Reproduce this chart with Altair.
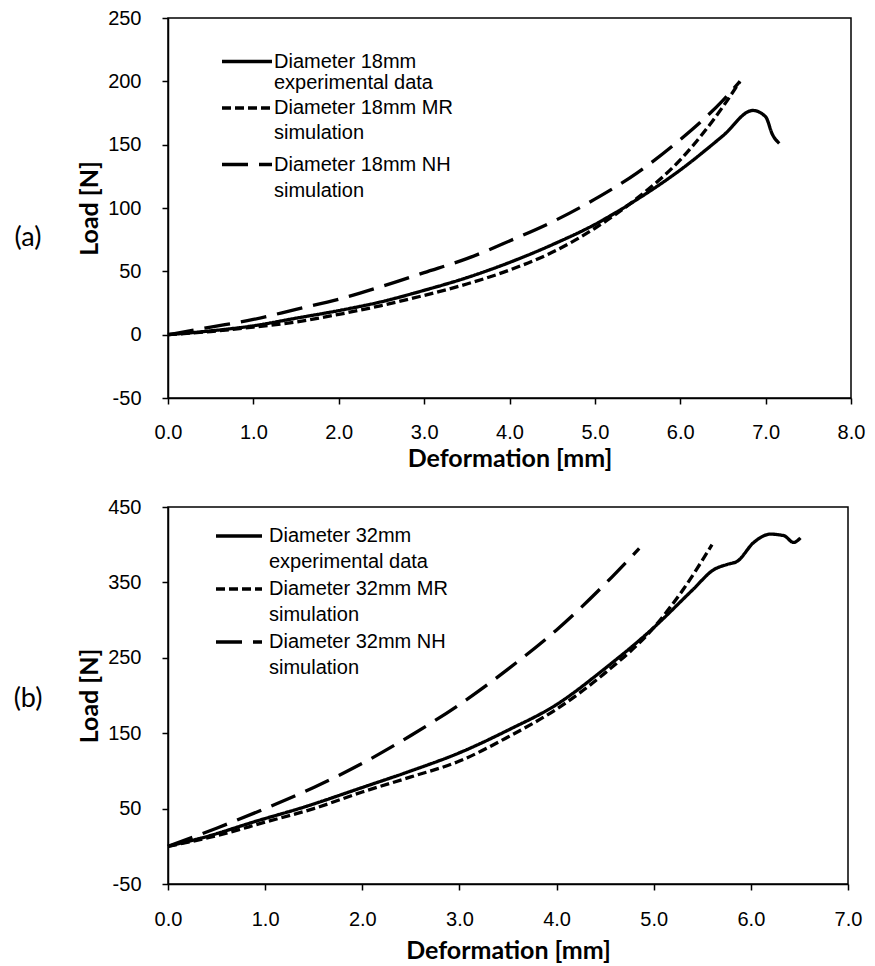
import altair as alt
import pandas as pd

# ---------------- Panel (a): diameter 18 mm ----------------
a_names = ["Diameter 18mm experimental data", "Diameter 18mm MR simulation", "Diameter 18mm NH simulation"]
a_exp_x = [0, 0.5, 1.0, 1.5, 2.0, 2.5, 3.0, 3.5, 4.0, 4.5, 5.0, 5.5, 6.0, 6.5, 6.85, 7.0, 7.08, 7.16]
a_exp_y = [0, 3, 7, 13, 19, 26, 35, 45, 57, 71, 87, 107, 130, 157, 177, 172, 158, 151]
a_mr_x = [0, 0.5, 1.0, 1.5, 2.0, 2.5, 3.0, 3.5, 4.0, 4.5, 5.0, 5.5, 6.0, 6.5, 6.7]
a_mr_y = [0, 2.5, 6, 10, 16, 23, 31, 40, 51, 65, 84, 108, 138, 180, 200]
a_nh_x = [0, 0.5, 1.0, 1.5, 2.0, 2.5, 3.0, 3.5, 4.0, 4.5, 5.0, 5.5, 6.0, 6.5, 6.7]
a_nh_y = [0, 6, 12, 20, 28, 38, 49, 60, 74, 89, 107, 128, 154, 185, 200]
a_xticks = [0, 1, 2, 3, 4, 5, 6, 7, 8]
a_yticks = [-50, 0, 50, 100, 150, 200, 250]
a_legend = [["Diameter 18mm", "experimental data"], ["Diameter 18mm MR", "simulation"], ["Diameter 18mm NH", "simulation"]]

# ---------------- Panel (b): diameter 32 mm ----------------
b_names = ["Diameter 32mm experimental data", "Diameter 32mm MR simulation", "Diameter 32mm NH simulation"]
b_exp_x = [0, 0.4, 0.9, 1.4, 2.0, 2.5, 3.0, 3.5, 4.0, 4.5, 5.0, 5.4, 5.62, 5.76, 5.86, 6.03, 6.2, 6.34, 6.44, 6.51]
b_exp_y = [0, 13, 33, 52, 78, 100, 124, 154, 188, 236, 290, 340, 367, 374, 378, 403, 414, 412, 403, 409]
b_mr_x = [0, 0.5, 1.0, 1.5, 2.0, 2.5, 3.0, 3.5, 4.0, 4.5, 5.0, 5.3, 5.6]
b_mr_y = [0, 14, 32, 50, 72, 92, 113, 145, 182, 230, 290, 340, 400]
b_nh_x = [0, 0.5, 1.0, 1.5, 2.0, 2.5, 3.0, 3.5, 4.0, 4.5, 4.85]
b_nh_y = [0, 24, 50, 78, 110, 147, 188, 235, 287, 348, 395]
b_xticks = [0, 1, 2, 3, 4, 5, 6, 7]
b_yticks = [-50, 50, 150, 250, 350, 450]
b_legend = [["Diameter 32mm", "experimental data"], ["Diameter 32mm MR", "simulation"], ["Diameter 32mm NH", "simulation"]]

DASHES = [[1, 0], [9, 4], [26, 11]]
TICK_FONT = "Liberation Sans"
TITLE_FONT = "Lato"
YLABEL = "datum.value < 0 ? '-' + abs(datum.value) : '' + datum.value"


def frame(names, xs_list, ys_list):
    rows = []
    for name, xs, ys in zip(names, xs_list, ys_list):
        for i, (x, y) in enumerate(zip(xs, ys)):
            rows.append({"series": name, "x": x, "y": y, "i": i})
    return pd.DataFrame(rows)


def panel(df, names, xticks, yticks, w, h, legend, leg_x0, leg_x1, leg_tx, leg_rows, tag, tag_y,
          xlabpad, xtitlepad):
    xaxis = alt.Axis(values=xticks, format=".1f", title="Deformation [mm]", grid=False,
                     labelFlush=False, labelOverlap=False,
                     domainColor="black", domainWidth=1.5, tickColor="black", tickWidth=1.5,
                     tickSize=6, labelFont=TICK_FONT, labelFontSize=20, labelColor="black",
                     labelPadding=xlabpad, titleFont=TITLE_FONT, titleFontSize=25,
                     titleFontWeight="bold", titleColor="black", titlePadding=xtitlepad)
    yaxis = alt.Axis(values=yticks, labelExpr=YLABEL, title="Load [N]", grid=False,
                     labelFlush=False, labelOverlap=False,
                     domainColor="black", domainWidth=1.5, tickColor="black", tickWidth=1.5,
                     tickSize=6, labelFont=TICK_FONT, labelFontSize=20, labelColor="black",
                     labelPadding=21, titleFont=TITLE_FONT, titleFontSize=25,
                     titleFontWeight="bold", titleColor="black", titlePadding=5)
    lines = alt.Chart(df).mark_line(strokeWidth=3.3, color="black", strokeCap="butt",
                                    interpolate="monotone").encode(
        x=alt.X("x:Q", scale=alt.Scale(domain=[xticks[0], xticks[-1]], nice=False, zero=False), axis=xaxis),
        y=alt.Y("y:Q", scale=alt.Scale(domain=[yticks[0], yticks[-1]], nice=False, zero=False), axis=yaxis),
        strokeDash=alt.StrokeDash("series:N", scale=alt.Scale(domain=names, range=DASHES), legend=None),
        order="i:Q",
    )
    layers = [lines]
    one = alt.Data(values=[{"k": 0}])
    for k, (l1, l2) in enumerate(legend):
        ya, yb = leg_rows[2 * k], leg_rows[2 * k + 1]
        layers.append(alt.Chart(one).mark_rule(strokeWidth=3.3, color="black", strokeCap="butt",
                                               strokeDash=DASHES[k]).encode(
            x=alt.value(leg_x0), x2=alt.value(leg_x1), y=alt.value(ya)))
        for txt, yy in ((l1, ya), (l2, yb)):
            layers.append(alt.Chart(one).mark_text(text=txt, align="left", baseline="middle",
                                                   font=TICK_FONT, fontSize=20, color="black").encode(
                x=alt.value(leg_tx), y=alt.value(yy)))
    layers.append(alt.Chart(one).mark_text(text=tag, align="center", baseline="middle",
                                           font=TITLE_FONT, fontSize=27, color="black").encode(
        x=alt.value(-140), y=alt.value(tag_y)))
    return alt.layer(*layers).properties(width=w, height=h)


dfa = frame(a_names, [a_exp_x, a_mr_x, a_nh_x], [a_exp_y, a_mr_y, a_nh_y])
dfb = frame(b_names, [b_exp_x, b_mr_x, b_nh_x], [b_exp_y, b_mr_y, b_nh_y])

top = panel(dfa, a_names, a_xticks, a_yticks, 683, 380, a_legend, 54, 104, 106,
            [43.5, 64.5, 90, 115, 146.5, 172.5], "(a)", 219.5, 18, 4)
bottom = panel(dfb, b_names, b_xticks, b_yticks, 680, 377, b_legend, 48, 94, 101,
               [29, 55, 82, 108, 135, 161], "(b)", 192, 19, 9)

chart = alt.vconcat(top, bottom, spacing=24).configure_view(
    stroke="black", strokeWidth=1.5
).properties(padding={"left": 4, "top": -1, "right": 0, "bottom": 0}, background="white")

chart.save("out.html", embed_options={"renderer": "svg", "actions": False})
